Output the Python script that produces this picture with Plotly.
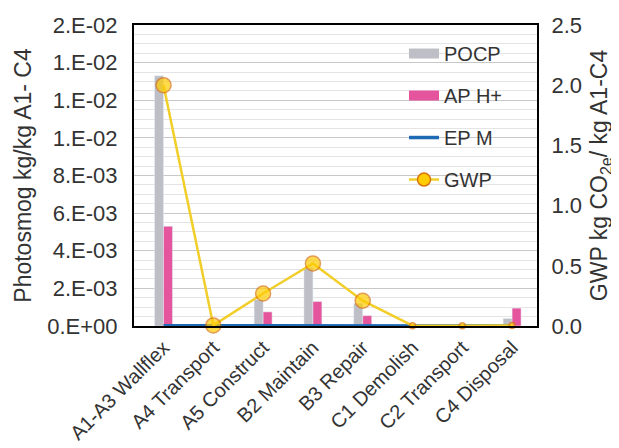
import plotly.graph_objects as go

categories = ["A1-A3 Wallflex", "A4 Transport", "A5 Construct", "B2 Maintain",
              "B3 Repair", "C1 Demolish", "C2 Transport", "C4 Disposal"]
pocp = [0.0133, 0.00002, 0.0014, 0.0031, 0.0012, 0.00002, 0.00002, 0.0004]
ap_h = [0.0053, 0.00001, 0.00075, 0.0013, 0.00055, 0.00001, 0.00001, 0.00095]
ep_m = [0.00001, 0.000002, 0.000005, 0.00001, 0.000005, 0.0, 0.0, 0.0]
gwp = [2.0, 0.005, 0.27, 0.52, 0.21, 0.003, 0.003, 0.004]

left_tickvals = [0, 0.002, 0.004, 0.006, 0.008, 0.010, 0.012, 0.014, 0.016]
left_ticktext = ["0.E+00", "2.E-03", "4.E-03", "6.E-03", "8.E-03",
                 "1.E-02", "1.E-02", "1.E-02", "2.E-02"]

GRAY = "#BEBEC6"
PINK = "#E5559D"
BLUE = "#1F6AB4"
YEL = "#F2CE2A"
FONT = "Liberation Sans, Arial, sans-serif"
TXT = "#333333"

fig = go.Figure()
fig.add_trace(go.Bar(x=categories, y=pocp, marker_color=GRAY, name="POCP",
                     showlegend=False))
fig.add_trace(go.Bar(x=categories, y=ap_h, marker_color=PINK, name="AP H+",
                     showlegend=False))
fig.add_trace(go.Scatter(x=categories, y=ep_m, mode="lines", name="EP M",
                         line=dict(color=BLUE, width=3.5), showlegend=False,
                         cliponaxis=False))
fig.add_trace(go.Scatter(x=categories, y=gwp, mode="lines+markers", name="GWP",
                         yaxis="y2", cliponaxis=False, showlegend=False,
                         line=dict(color=YEL, width=2.5),
                         marker=dict(size=[15, 15, 15, 15, 15, 6, 6, 6],
                                     color="#FFCC00",
                                     line=dict(color="#D9730D", width=1.5))))

# legend entries
fig.add_trace(go.Scatter(x=[None], y=[None], mode="lines", name="POCP",
                         line=dict(color=GRAY, width=10), legendgroup="a"))
fig.add_trace(go.Scatter(x=[None], y=[None], mode="lines", name="AP H+",
                         line=dict(color=PINK, width=10), legendgroup="b"))
fig.add_trace(go.Scatter(x=[None], y=[None], mode="lines", name="EP M",
                         line=dict(color=BLUE, width=3.5), legendgroup="c"))
fig.add_trace(go.Scatter(x=[None], y=[None], mode="lines+markers", name="GWP",
                         line=dict(color=YEL, width=2.5), legendgroup="d",
                         marker=dict(size=13, color="#FFCC00",
                                     line=dict(color="#D9730D", width=1.5))))

fig.update_layout(
    width=611, height=440,
    margin=dict(l=126, r=82, t=17, b=122),
    paper_bgcolor="white", plot_bgcolor="white",
    font=dict(family=FONT, size=22, color=TXT),
    barmode="group", bargap=0.64, bargroupgap=0,
    legend=dict(x=0.67, xanchor="left", y=0.97, yanchor="top",
                bgcolor="rgba(0,0,0,0)",
                tracegroupgap=13, font=dict(size=20, color=TXT)),
    xaxis=dict(tickangle=-45, tickfont=dict(size=20), showgrid=False,
               showline=True, linecolor="black", linewidth=2, mirror=True,
               ticks="", automargin=False),
    yaxis=dict(range=[0, 0.016], tickvals=left_tickvals, ticktext=left_ticktext,
               showline=True, linecolor="black", linewidth=2,
               gridcolor="#C8C8C8", gridwidth=1, zeroline=False,
               minor=dict(dtick=0.0005, showgrid=True, gridcolor="#E4E4E4"),
               ticks="", ticklabelstandoff=10, automargin=False,
               tickfont=dict(size=22),
               title=dict(text="Photosmog kg/kg A1- C4", font=dict(size=23),
                          standoff=9)),
    yaxis2=dict(range=[0, 2.5], dtick=0.5, tickformat=".1f", overlaying="y",
                side="right", showgrid=False, showline=True, linecolor="black",
                linewidth=2, zeroline=False, ticks="", ticklabelstandoff=8,
                automargin=False, tickfont=dict(size=22),
                title=dict(text="GWP kg CO<sub>2e</sub>/ kg A1-C4",
                           font=dict(size=23), standoff=10)),
)

fig.write_html("out.html")
